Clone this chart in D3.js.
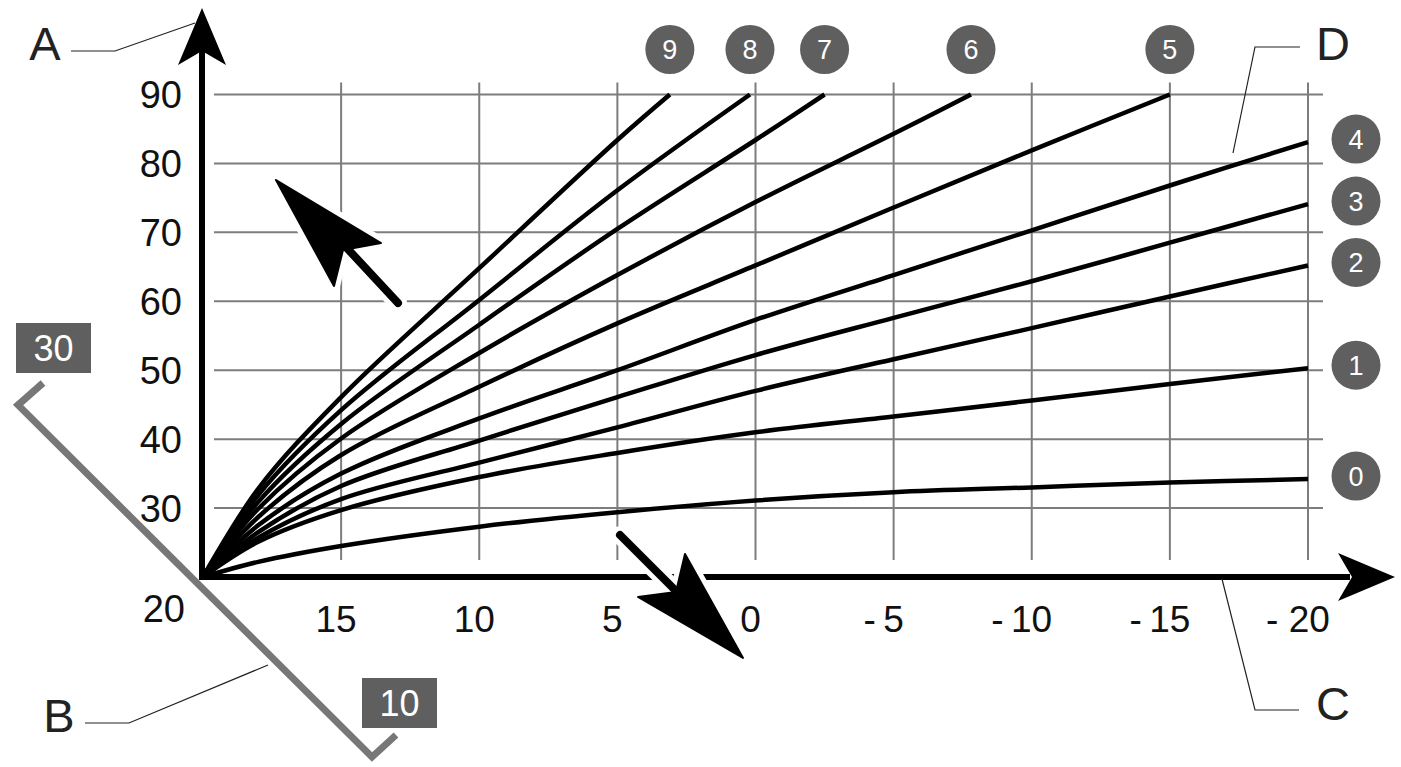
<!DOCTYPE html>
<html lang="en">
<head>
<meta charset="UTF-8">
<title>Heating curves</title>
<script src="https://cdn.jsdelivr.net/npm/d3@7"></script>
<style>
  body { margin: 0; background: #fff; }
  svg { display: block; font-family: "Liberation Sans", Arial, sans-serif; }
</style>
</head>
<body>
<script>
// outdoor temperature steps (x) and the flow temperature of each curve (y)
var outdoorTemps = [20, 18, 15, 10, 5, 0, -5, -10, -15, -20];
var endOutdoor = [-20, -20, -20, -20, -20, -15, -7.8, -2.5, 0.2, 3.1];
var curve0 = [20, 22.2, 24.5, 27.3, 29.4, 31.1, 32.3, 33.0, 33.7, 34.2];
var curve1 = [20, 25.1, 29.7, 34.5, 38.0, 41.0, 43.3, 45.6, 48.0, 50.3];
var curve2 = [20, 25.7, 31.3, 36.6, 41.7, 47.0, 51.6, 56.1, 60.7, 65.2];
var curve3 = [20, 26.5, 33.2, 39.8, 46.1, 52.2, 57.6, 62.9, 68.5, 74.1];
var curve4 = [20, 27.5, 35.0, 43.0, 50.0, 57.3, 63.8, 70.3, 76.8, 83.1];
var curve5 = [20, 28.7, 37.7, 47.6, 56.8, 65.2, 73.6, 81.9, 90];
var curve6 = [20, 29.9, 40.1, 52.5, 63.8, 74.4, 84.3, 90];
var curve7 = [20, 30.9, 42.2, 56.6, 70.5, 83.4, 90];
var curve8 = [20, 31.9, 44.2, 60.2, 76.1, 90];
var curve9 = [20, 32.8, 46.1, 64.8, 83.4, 90];
var curves = [curve0, curve1, curve2, curve3, curve4, curve5, curve6, curve7, curve8, curve9];

var xTicks = [15, 10, 5, 0, -5, -10, -15, -20];
var xTickLabels = ["15", "10", "5", "0", "-\u20095", "-\u200910", "-\u200915", "- 20"];
var yTicks = [30, 40, 50, 60, 70, 80, 90];

var W = 1401, H = 767;
var grey = "#7d7d7d", badge = "#5f5f5f";

var svg = d3.select("body").append("svg").attr("width", W).attr("height", H);

var x = d3.scaleLinear().domain([20, -20]).range([203, 1308]);
var y = d3.scaleLinear().domain([20, 90]).range([577, 94.5]);

// grid
svg.append("g").selectAll("line").data(xTicks).enter().append("line")
    .attr("x1", d => x(d)).attr("x2", d => x(d))
    .attr("y1", y(90) - 12).attr("y2", y(20) - 17)
    .attr("stroke", grey).attr("stroke-width", 2);
svg.append("g").selectAll("line").data(yTicks).enter().append("line")
    .attr("x1", x(20) + 11).attr("x2", x(-20) + 15)
    .attr("y1", d => y(d)).attr("y2", d => y(d))
    .attr("stroke", grey).attr("stroke-width", 2);

// grey diagonal scale (B)
svg.append("path")
    .attr("d", "M43,383 L18,405 L372,757 L396,735")
    .attr("fill", "none").attr("stroke", "#777").attr("stroke-width", 7)
    .attr("stroke-linejoin", "miter");

// curves
var line = d3.line().x(d => x(d[0])).y(d => y(d[1])).curve(d3.curveCatmullRom.alpha(0.5));
curves.forEach(function (c, i) {
    var xs = outdoorTemps.slice(0, c.length - 1).concat([endOutdoor[i]]);
    svg.append("path")
        .datum(c.map((v, j) => [xs[j], v]))
        .attr("d", line)
        .attr("fill", "none").attr("stroke", "#000").attr("stroke-width", 4.5);
});

// axes
svg.append("line").attr("x1", x(20) - 1).attr("x2", 1350).attr("y1", y(20)).attr("y2", y(20))
    .attr("stroke", "#000").attr("stroke-width", 6);
svg.append("line").attr("x1", x(20) - 1).attr("x2", x(20) - 1).attr("y1", y(20) + 3).attr("y2", 50)
    .attr("stroke", "#000").attr("stroke-width", 6);
svg.append("path").attr("d", "M1395,577 L1338,553 L1352,577 L1338,601 Z").attr("fill", "#000");
svg.append("path").attr("d", "M202,8 L226,65 L202,51 L178,65 Z").attr("fill", "#000");

// big direction arrows with white halo
function bigArrow(shaft, head) {
    var g = svg.append("g");
    g.append("line").attr("x1", shaft[0]).attr("y1", shaft[1]).attr("x2", shaft[2]).attr("y2", shaft[3])
        .attr("stroke", "#fff").attr("stroke-width", 18).attr("stroke-linecap", "round");
    g.append("path").attr("d", head).attr("fill", "#fff").attr("stroke", "#fff")
        .attr("stroke-width", 12).attr("stroke-linejoin", "round");
    g.append("line").attr("x1", shaft[0]).attr("y1", shaft[1]).attr("x2", shaft[2]).attr("y2", shaft[3])
        .attr("stroke", "#000").attr("stroke-width", 8).attr("stroke-linecap", "round");
    g.append("path").attr("d", head).attr("fill", "#000").attr("stroke", "#000")
        .attr("stroke-width", 2).attr("stroke-linejoin", "round");
}
bigArrow([398, 303, 345, 246], "M276,180 L381,243 L343,250 L334,286 Z");
bigArrow([620, 535, 676, 591], "M743,658 L638,597 L676,592 L685,554 Z");

// tick labels
svg.append("g").selectAll("text").data(yTicks).enter().append("text")
    .attr("x", 182).attr("y", d => y(d)).attr("dy", "0.36em")
    .attr("text-anchor", "end").attr("font-size", 38).attr("fill", "#111")
    .text(d => d);
svg.append("text").attr("x", 185).attr("y", y(20) + 31).attr("dy", "0.36em")
    .attr("text-anchor", "end").attr("font-size", 38).attr("fill", "#111").text("20");
svg.append("g").selectAll("text").data(xTicks).enter().append("text")
    .attr("x", d => x(d) - (d < 0 ? 10 : 5)).attr("y", y(20) + 42).attr("dy", "0.36em")
    .attr("text-anchor", "middle").attr("font-size", 37).attr("fill", "#111")
    .text((d, i) => xTickLabels[i]);

// curve number badges
curves.forEach(function (c, i) {
    var cx, cy;
    if (c[c.length - 1] >= 90) { cx = x(endOutdoor[i]); cy = y(90) - 45; }
    else { cx = x(-20) + 48; cy = y(c[c.length - 1]) - 3; }
    svg.append("circle").attr("cx", cx).attr("cy", cy).attr("r", 24.5).attr("fill", badge);
    svg.append("text").attr("x", cx).attr("y", cy).attr("dy", "0.36em").attr("text-anchor", "middle")
        .attr("font-size", 27).attr("fill", "#fff").text(i);
});

// room temperature boxes
[["30", 16, 323], ["10", 362, 678]].forEach(function (b) {
    svg.append("rect").attr("x", b[1]).attr("y", b[2]).attr("width", 75).attr("height", 50).attr("fill", badge);
    svg.append("text").attr("x", b[1] + 37.5).attr("y", b[2] + 25).attr("dy", "0.36em")
        .attr("text-anchor", "middle").attr("font-size", 36).attr("fill", "#fff").text(b[0]);
});

// letter callouts
var callouts = [
    ["A", 45, 43, "M71,51 L115,51 L195,23"],
    ["B", 59, 715, "M85,723 L129,723 L268,665"],
    ["C", 1333, 703, "M1299,710 L1255,710 L1222,579"],
    ["D", 1333, 43, "M1300,47 L1255,47 L1233,153"]
];
callouts.forEach(function (c) {
    svg.append("path").attr("d", c[3]).attr("fill", "none").attr("stroke", "#222").attr("stroke-width", 1.2);
    svg.append("text").attr("x", c[1]).attr("y", c[2]).attr("dy", "0.36em").attr("text-anchor", "middle")
        .attr("font-size", 47).attr("fill", "#222").text(c[0]);
});
</script>
</body>
</html>
